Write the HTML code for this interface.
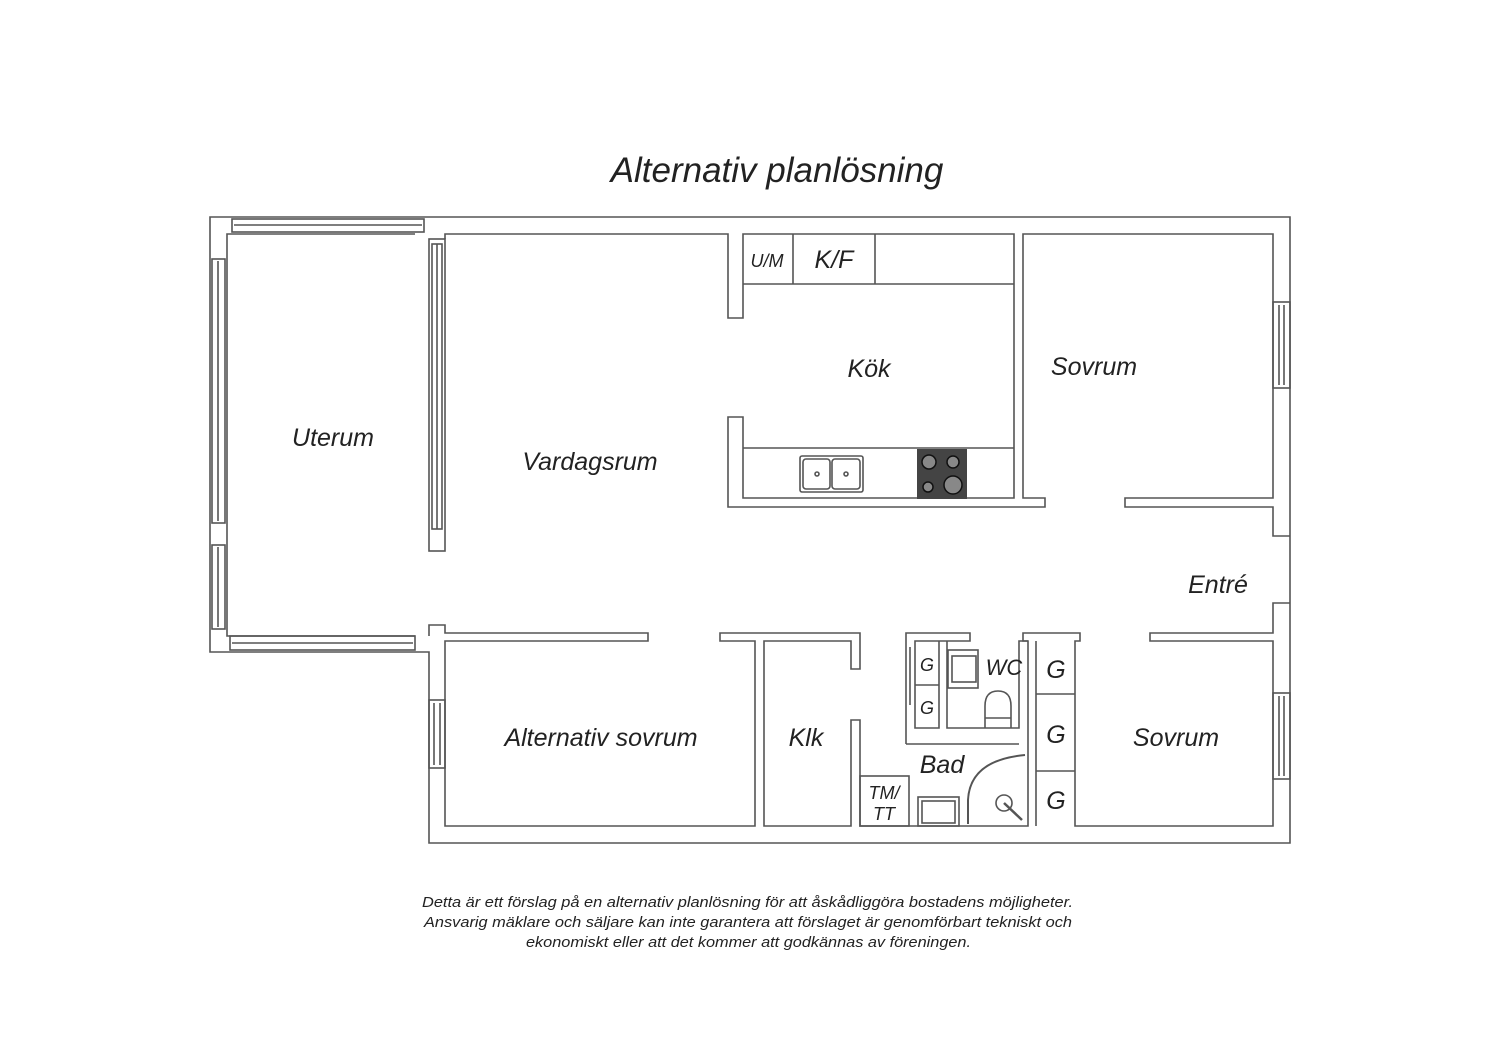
<!DOCTYPE html>
<html><head><meta charset="utf-8"><style>
html,body{margin:0;padding:0;background:#fff}
svg{display:block}
text{font-family:"Liberation Sans",sans-serif;font-style:italic;fill:#222}
</style></head><body>
<svg width="1500" height="1060" viewBox="0 0 1500 1060" xmlns="http://www.w3.org/2000/svg">
<rect width="1500" height="1060" fill="#fff"/>
<g fill="none" stroke="#555" stroke-width="1.6">
<path d="M210,217 H1290 V843 H429 V652 H210 Z"/>
<path d="M415,234 H227 V636 H415"/>
<rect x="429" y="239" width="16" height="312"/>
<rect x="432" y="244" width="10" height="285"/>
<line x1="437" y1="244" x2="437" y2="529"/>
<rect x="232" y="219" width="192" height="13"/>
<line x1="234" y1="225" x2="422" y2="225"/>
<rect x="212" y="259" width="13" height="264"/><line x1="218" y1="261" x2="218" y2="521"/>
<rect x="212" y="545" width="13" height="84"/><line x1="218" y1="547" x2="218" y2="627"/>
<rect x="230" y="636" width="185" height="14"/><line x1="232" y1="643" x2="413" y2="643"/>
<path d="M445,239 V234 H728 V318 H743 V234 H1014 V498 H743 V417 H728 V507 H1045 V498 H1023 V234 H1273 V498 H1125 V507 H1273 V536 H1290"/>
<path d="M1290,603 H1273 V633 H1150 V641 H1273 V826 H1075 V641 H1080 V633 H1023 V641 H1028 V826 H860 V720 H851 V826 H764 V641 H851 V669 H860 V633 H720 V641 H755 V826 H445 V641 H648 V633 H445 V625 H429 V636"/>
<path d="M743,284 H1014 M793,234 V284 M875,234 V284 M743,448 H1014"/>
<rect x="1273" y="302" width="17" height="86"/><line x1="1279" y1="305" x2="1279" y2="385"/><line x1="1284" y1="305" x2="1284" y2="385"/>
<rect x="1273" y="693" width="17" height="86"/><line x1="1279" y1="696" x2="1279" y2="776"/><line x1="1284" y1="696" x2="1284" y2="776"/>
<rect x="429" y="700" width="16" height="68"/><line x1="434" y1="703" x2="434" y2="765"/><line x1="440" y1="703" x2="440" y2="765"/>
<path d="M1036,641 V826 M1036,694 H1075 M1036,771 H1075"/>
<path d="M906,744 V633 H970 V641 H915 V728 H939 V641 H947 V728 H1019 V641 H1028 M906,744 H1019"/>
<path d="M915,685 H939"/>
<path d="M910,647 V705"/>
<rect x="860" y="776" width="49" height="50"/>
<rect x="918" y="797" width="41" height="29"/><rect x="922" y="801" width="33" height="22"/>
<rect x="948" y="650" width="30" height="38"/><rect x="952" y="656" width="24" height="26"/>
<path d="M985,728 V706 Q985,691 998,691 Q1011,691 1011,706 V728 M985,718 H1011"/>
<path d="M968,824 V800 Q970,760 1025,755" stroke-width="2"/>
<circle cx="1004" cy="803" r="8"/>
<line x1="1004" y1="803" x2="1022" y2="820" stroke-width="2.5"/>
<rect x="800" y="456" width="63" height="36" rx="2"/>
<rect x="803" y="459" width="27" height="30" rx="3"/><rect x="832" y="459" width="28" height="30" rx="3"/>
<circle cx="817" cy="474" r="2"/><circle cx="846" cy="474" r="2"/>
</g>
<rect x="917" y="449" width="50" height="50" fill="#444"/>
<g fill="#888" stroke="#111" stroke-width="1.5">
<circle cx="929" cy="462" r="7"/><circle cx="953" cy="462" r="6"/><circle cx="928" cy="487" r="5"/><circle cx="953" cy="485" r="9"/>
</g>
<text x="777" y="182" font-size="35" text-anchor="middle">Alternativ planlösning</text>
<g font-size="25" text-anchor="middle">
<text x="333" y="446">Uterum</text>
<text x="590" y="470">Vardagsrum</text>
<text x="869" y="377">Kök</text>
<text x="1094" y="375">Sovrum</text>
<text x="1218" y="593">Entré</text>
<text x="601" y="746">Alternativ sovrum</text>
<text x="806" y="746">Klk</text>
<text x="942" y="773">Bad</text>
<text x="1176" y="746">Sovrum</text>
<text x="834" y="268">K/F</text>
<text x="1004" y="675" font-size="22">WC</text>
<text x="1056" y="678">G</text><text x="1056" y="743">G</text><text x="1056" y="809">G</text>
</g>
<g font-size="18" text-anchor="middle">
<text x="767" y="267">U/M</text>
<text x="927" y="671">G</text><text x="927" y="714">G</text>
<text x="884" y="799">TM/</text><text x="884" y="820">TT</text>
</g>
<g font-size="15" fill="#333">
<text x="422" y="907" textLength="651" lengthAdjust="spacingAndGlyphs">Detta är ett förslag på en alternativ planlösning för att åskådliggöra bostadens möjligheter.</text>
<text x="424" y="927" textLength="648" lengthAdjust="spacingAndGlyphs">Ansvarig mäklare och säljare kan inte garantera att förslaget är genomförbart tekniskt och</text>
<text x="526" y="947" textLength="445" lengthAdjust="spacingAndGlyphs">ekonomiskt eller att det kommer att godkännas av föreningen.</text>
</g>
</svg>
</body></html>
